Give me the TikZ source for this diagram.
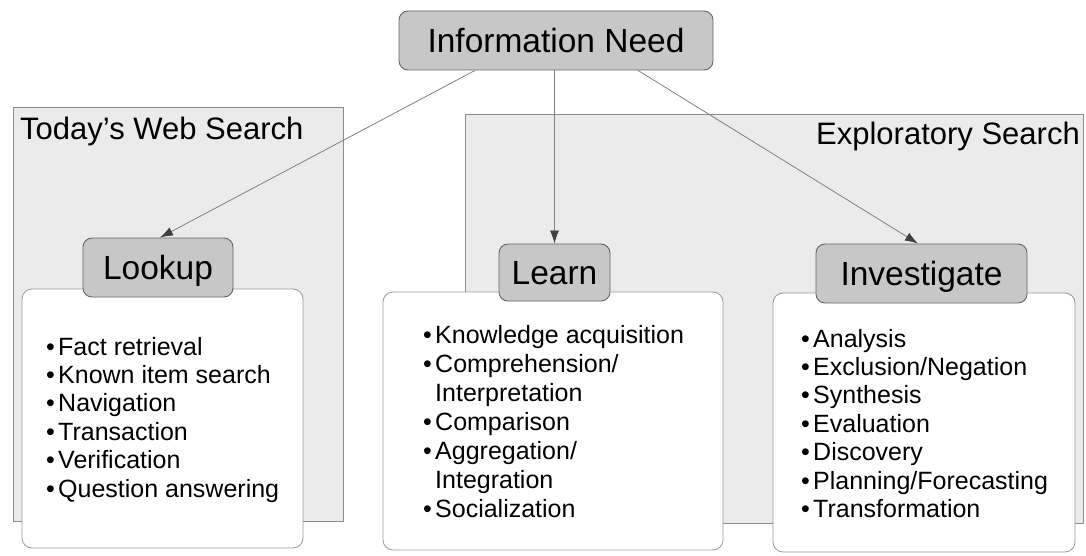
\documentclass[tikz,border=0pt]{standalone}
\usepackage{fontspec}
\setmainfont{Liberation Sans}
\usetikzlibrary{arrows.meta}
\begin{document}
\begin{tikzpicture}[x=1pt,y=-1pt,
  panel/.style={draw=black!45, fill=black!8, line width=0.8pt},
  ptitle/.style={inner sep=0pt, font=\fontsize{31}{36}\selectfont, text=black},
  labelbox/.style={draw=black!60, fill=black!22, rounded corners=9pt, line width=0.9pt,
     font=\fontsize{33.5}{38}\selectfont, text=black, inner sep=0pt, text height=24pt, text depth=0pt},
  contentbox/.style={draw=black!40, fill=white, rounded corners=10pt, line width=0.8pt},
  itemtext/.style={anchor=base west, inner sep=0pt, font=\fontsize{25}{29}\selectfont, text=black},
  conn/.style={draw=black!50, line width=0.8pt, -{Latex[length=13pt,width=9pt,color=black!75]}}
]
\useasboundingbox (0,0) rectangle (1086,556);
\fill[white] (0,0) rectangle (1086,556);

% panels
\draw[panel] (13,107) rectangle (343,521);
\draw[panel] (465,114) rectangle (1083,523);
\node[ptitle, anchor=base west] (tws) at (20,140) {Today's Web Search};
\node[ptitle, anchor=base east] (exs) at (1080,145) {Exploratory Search};

% content boxes
\draw[contentbox] (22,289) rectangle (303,548);
\draw[contentbox] (383,292) rectangle (723,550);
\draw[contentbox] (773,293) rectangle (1075,552);

% label boxes
\node[labelbox, minimum width=314pt, minimum height=59pt] (info) at (556,40.5) {Information Need};
\node[labelbox, minimum width=150pt, minimum height=59pt] (lookup) at (158,267.5) {Lookup};
\node[labelbox, minimum width=111pt, minimum height=57pt] (learn) at (554.5,272.5) {Learn};
\node[labelbox, minimum width=211pt, minimum height=59pt] (invest) at (921.5,273.5) {Investigate};

% connectors
\draw[conn] ([xshift=-81pt]info.south) -- ([xshift=2pt]lookup.north);
\draw[conn] ([xshift=-1.5pt]info.south) -- (learn.north);
\draw[conn] ([xshift=82pt]info.south) -- ([xshift=-3.5pt]invest.north);

% Lookup items
\foreach \t [count=\i from 0] in {Fact retrieval,Known item search,Navigation,Transaction,Verification,Question answering}{
  \node[itemtext] (lb\i) at (46,355+28.4*\i) {•};
  \node[itemtext] (lt\i) at (58,355+28.4*\i) {\t};
}

% Learn items
\node[itemtext] (eb0) at (423,343) {•};
\node[itemtext] (et0) at (435,343) {Knowledge acquisition};
\node[itemtext] (eb1) at (423,372) {•};
\node[itemtext] (et1) at (435,372) {Comprehension/};
\node[itemtext] (et2) at (435,401) {Interpretation};
\node[itemtext] (eb3) at (423,430) {•};
\node[itemtext] (et3) at (435,430) {Comparison};
\node[itemtext] (eb4) at (423,459) {•};
\node[itemtext] (et4) at (435,459) {Aggregation/};
\node[itemtext] (et5) at (435,488) {Integration};
\node[itemtext] (eb6) at (423,517) {•};
\node[itemtext] (et6) at (435,517) {Socialization};

% Investigate items
\foreach \t [count=\i from 0] in {Analysis,Exclusion/Negation,Synthesis,Evaluation,Discovery,Planning/Forecasting,Transformation}{
  \node[itemtext] (ib\i) at (801,347+28.4*\i) {•};
  \node[itemtext] (it\i) at (813,347+28.4*\i) {\t};
}
\end{tikzpicture}
\end{document}
